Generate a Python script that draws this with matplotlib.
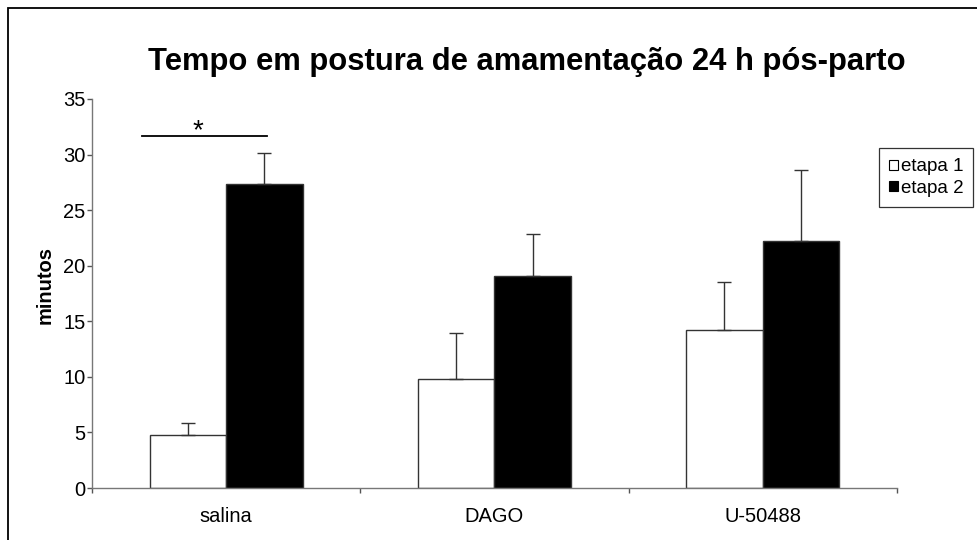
import matplotlib
matplotlib.use("Agg")
import matplotlib.pyplot as plt
from matplotlib.patches import Rectangle, Patch
import numpy as np

plt.rcParams['font.family'] = ['Liberation Sans', 'DejaVu Sans']

categories = ["salina", "DAGO", "U-50488"]
etapa1 = [4.74, 9.83, 14.24]
etapa1_err = [1.08, 4.14, 4.26]
etapa2 = [27.34, 19.04, 22.24]
etapa2_err = [2.81, 3.83, 6.33]
series_labels = ["etapa 1", "etapa 2"]
yticks = [0, 5, 10, 15, 20, 25, 30, 35]
title = "Tempo em postura de amamentação 24 h pós-parto"

fig = plt.figure(figsize=(9.78, 5.40), dpi=100)
ax = fig.add_axes([92/978, 1-488/540, (897-92)/978, (488-99)/540])

# outer chart frame
fig.patches.append(Rectangle((8/978, -0.1), 1.2, 1 - 8/540 + 0.1, transform=fig.transFigure,
                             fill=False, edgecolor='black', linewidth=1.3))

x = np.arange(len(categories))
w = 1/3.5
edge = '#333333'
ax.bar(x - w/2, etapa1, w, color='white', edgecolor=edge, linewidth=1.0, zorder=2)
ax.bar(x + w/2, etapa2, w, color='black', edgecolor=edge, linewidth=1.0, zorder=2)
ax.errorbar(x - w/2, etapa1, yerr=[np.zeros(3), etapa1_err], fmt='none', ecolor=edge,
            elinewidth=1.0, capsize=5, capthick=1.0, zorder=3)
ax.errorbar(x + w/2, etapa2, yerr=[np.zeros(3), etapa2_err], fmt='none', ecolor=edge,
            elinewidth=1.0, capsize=5, capthick=1.0, zorder=3)

ax.set_xlim(-0.5, 2.5)
ax.set_ylim(0, 35)
ax.set_yticks(yticks)
ax.set_xticks(x)
ax.set_xticklabels(categories, fontsize=14.5)
ax.set_xticks([-0.5, 0.5, 1.5, 2.5], minor=True)
ax.tick_params(axis='x', which='major', length=0, pad=14)
ax.tick_params(axis='x', which='minor', length=3.6, width=1.0, color='#555555', direction='out')
ax.tick_params(axis='y', length=3.6, width=1.0, color='#555555', direction='out', labelsize=14.5, pad=1)
for s in ['top', 'right']:
    ax.spines[s].set_visible(False)
for s in ['left', 'bottom']:
    ax.spines[s].set_color('#777777')
    ax.spines[s].set_linewidth(1.0)

fig.text(45/978, 1-284.5/540, "minutos", rotation=90, ha='center', va='center',
         fontsize=14.5, fontweight='bold')

# significance marker
ax.plot([-0.313, 0.153], [31.68, 31.68], color='black', linewidth=1.3, clip_on=False)
ax.text(-0.104, 31.45, "*", ha='center', va='baseline', fontsize=20)

fig.text(526.5/978, 1-70/540, title, ha='center', va='baseline', fontsize=22.3, fontweight='bold')

handles = [Patch(facecolor='white', edgecolor='black', linewidth=0.8),
           Patch(facecolor='black', edgecolor='black', linewidth=0.8)]
leg = fig.legend(handles, series_labels, loc='upper left', bbox_to_anchor=(879/978, 1-148/540),
                 fontsize=13.5, frameon=True, fancybox=False, edgecolor='black',
                 handlelength=0.45, handleheight=0.45, handletextpad=0.15, borderpad=0.55,
                 labelspacing=0.25, borderaxespad=0)
leg.get_frame().set_linewidth(0.9)

fig.savefig("out.png", dpi=100)
